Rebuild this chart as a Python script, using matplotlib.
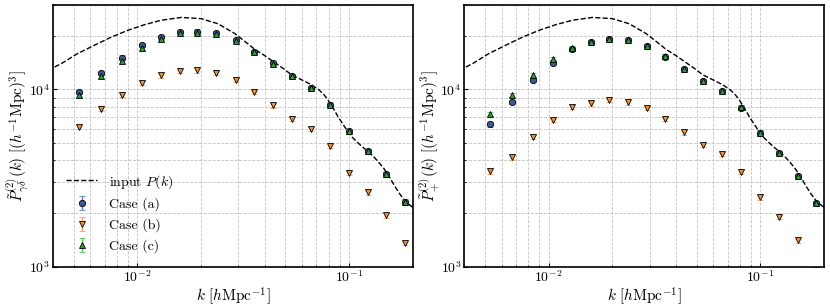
import numpy as np
import matplotlib
matplotlib.use('Agg')
import matplotlib.pyplot as plt

plt.rcParams['font.family'] = 'serif'
plt.rcParams['font.serif'] = ['cmr10', 'DejaVu Serif']
plt.rcParams['mathtext.fontset'] = 'cm'
plt.rcParams['axes.formatter.use_mathtext'] = True
plt.rcParams['axes.unicode_minus'] = False

# wavenumber bins
k = [0.00531, 0.00671, 0.00848, 0.0105, 0.01294, 0.01584, 0.0192, 0.0236, 0.0291,
     0.0356, 0.0437, 0.0537, 0.0659, 0.0811, 0.0993, 0.122, 0.1496, 0.183]

# left panel: gamma-delta
gd_a = [9660, 12400, 15150, 17800, 19730, 21040, 21240, 20790, 18960,
        16300, 14020, 11890, 10170, 8200, 5820, 4510, 3330, 2330]
gd_b = [6160, 7810, 9370, 10900, 12000, 12740, 12800, 12470, 11290,
        9700, 8125, 6860, 5990, 4810, 3400, 2630, 1950, 1360]
gd_c = [9330, 11990, 14500, 17170, 19300, 20700, 20800, 20500, 18800,
        16200, 14000, 11850, 10150, 8180, 5810, 4500, 3320, 2320]

# right panel: plus
pp_a = [6370, 8520, 11380, 14190, 16950, 18480, 19220, 18960, 17540,
        15350, 13020, 11140, 9790, 7910, 5700, 4380, 3240, 2280]
pp_b = [3450, 4150, 5400, 6720, 7980, 8340, 8710, 8450, 7880,
        6810, 5730, 4860, 4320, 3440, 2460, 1910, 1410, 960]
pp_c = [7290, 9290, 12000, 14900, 17100, 18550, 19250, 18980, 17560,
        15370, 13040, 11150, 9800, 7920, 5710, 4390, 3250, 2290]

# input linear power spectrum
k_in = [0.00407, 0.00438, 0.00520, 0.00629, 0.00750, 0.00904, 0.0108, 0.01298, 0.01612,
        0.0200, 0.0240, 0.0288, 0.0325, 0.0357, 0.0400, 0.0437, 0.0490, 0.0534, 0.0600,
        0.0662, 0.0720, 0.0760, 0.0793, 0.0840, 0.0890, 0.0940, 0.0979, 0.1030, 0.1099,
        0.1160, 0.1217, 0.1290, 0.1367, 0.1458, 0.1550, 0.164, 0.1730, 0.1823, 0.1920, 0.2026]
p_in = [13400, 14000, 15900, 17800, 19700, 21600, 23200, 24600, 25500,
        25100, 23500, 20700, 18500, 16900, 15500, 14400, 13100, 12100, 11300,
        10650, 9950, 9350, 8750, 7850, 6950, 6300, 5850, 5400, 5000,
        4720, 4500, 4230, 3930, 3580, 3200, 2850, 2580, 2370, 2240, 2130]

C_A, C_B, C_C = '#3B5B96', '#F28E2B', '#2CA02C'
E_A, E_B, E_C = '#5B7FC2', '#FFA060', '#5CC46A'

fig = plt.figure(figsize=(8.3, 3.08), dpi=100)
ax1 = fig.add_axes([0.0639, 0.134, 0.4337, 0.850])
ax2 = fig.add_axes([0.5594, 0.134, 0.4337, 0.850])

def panel(ax, a, b, c, ylabel, legend=False):
    ax.plot(k_in, p_in, '--', color='black', lw=1.0, label=r'input $P(k)$', zorder=2)
    for vals, mk, col, ec, lab in [(a, 'o', C_A, E_A, 'Case (a)'),
                                   (b, 'v', C_B, E_B, 'Case (b)'),
                                   (c, '^', C_C, E_C, 'Case (c)')]:
        v = np.array(vals)
        ax.errorbar(k, v, yerr=0.03 * v, fmt=mk, color=col, ecolor=ec, mec='black', mew=0.6,
                    ms=4.5, elinewidth=1.0, capsize=2.5, label=lab, zorder=3)
    ax.set_xscale('log'); ax.set_yscale('log')
    ax.set_xlim(0.004, 0.2); ax.set_ylim(1e3, 3e4)
    ax.grid(which='both', ls='--', color='#c4c4c4', lw=0.6, zorder=0)
    ax.tick_params(which='both', direction='in', labelsize=10, pad=2)
    ax.tick_params(which='major', length=3)
    ax.tick_params(which='minor', length=1.5)
    for s in ax.spines.values():
        s.set_linewidth(1.2)
    ax.set_xlabel(r'$k\ [h\mathrm{Mpc}^{-1}]$', fontsize=11, labelpad=0)
    ax.set_ylabel(ylabel, fontsize=11, labelpad=-1)
    if legend:
        ax.legend(loc='lower left', bbox_to_anchor=(0.0, 0.005), frameon=False, fontsize=10,
                  handlelength=2.3, labelspacing=0.5)

panel(ax1, gd_a, gd_b, gd_c, r'$\tilde{P}^{(2)}_{\gamma\delta}(k)\ [(h^{-1}\mathrm{Mpc})^3]$', legend=True)
panel(ax2, pp_a, pp_b, pp_c, r'$\tilde{P}^{(2)}_{+}(k)\ [(h^{-1}\mathrm{Mpc})^3]$')

fig.savefig('out.png', dpi=100)
